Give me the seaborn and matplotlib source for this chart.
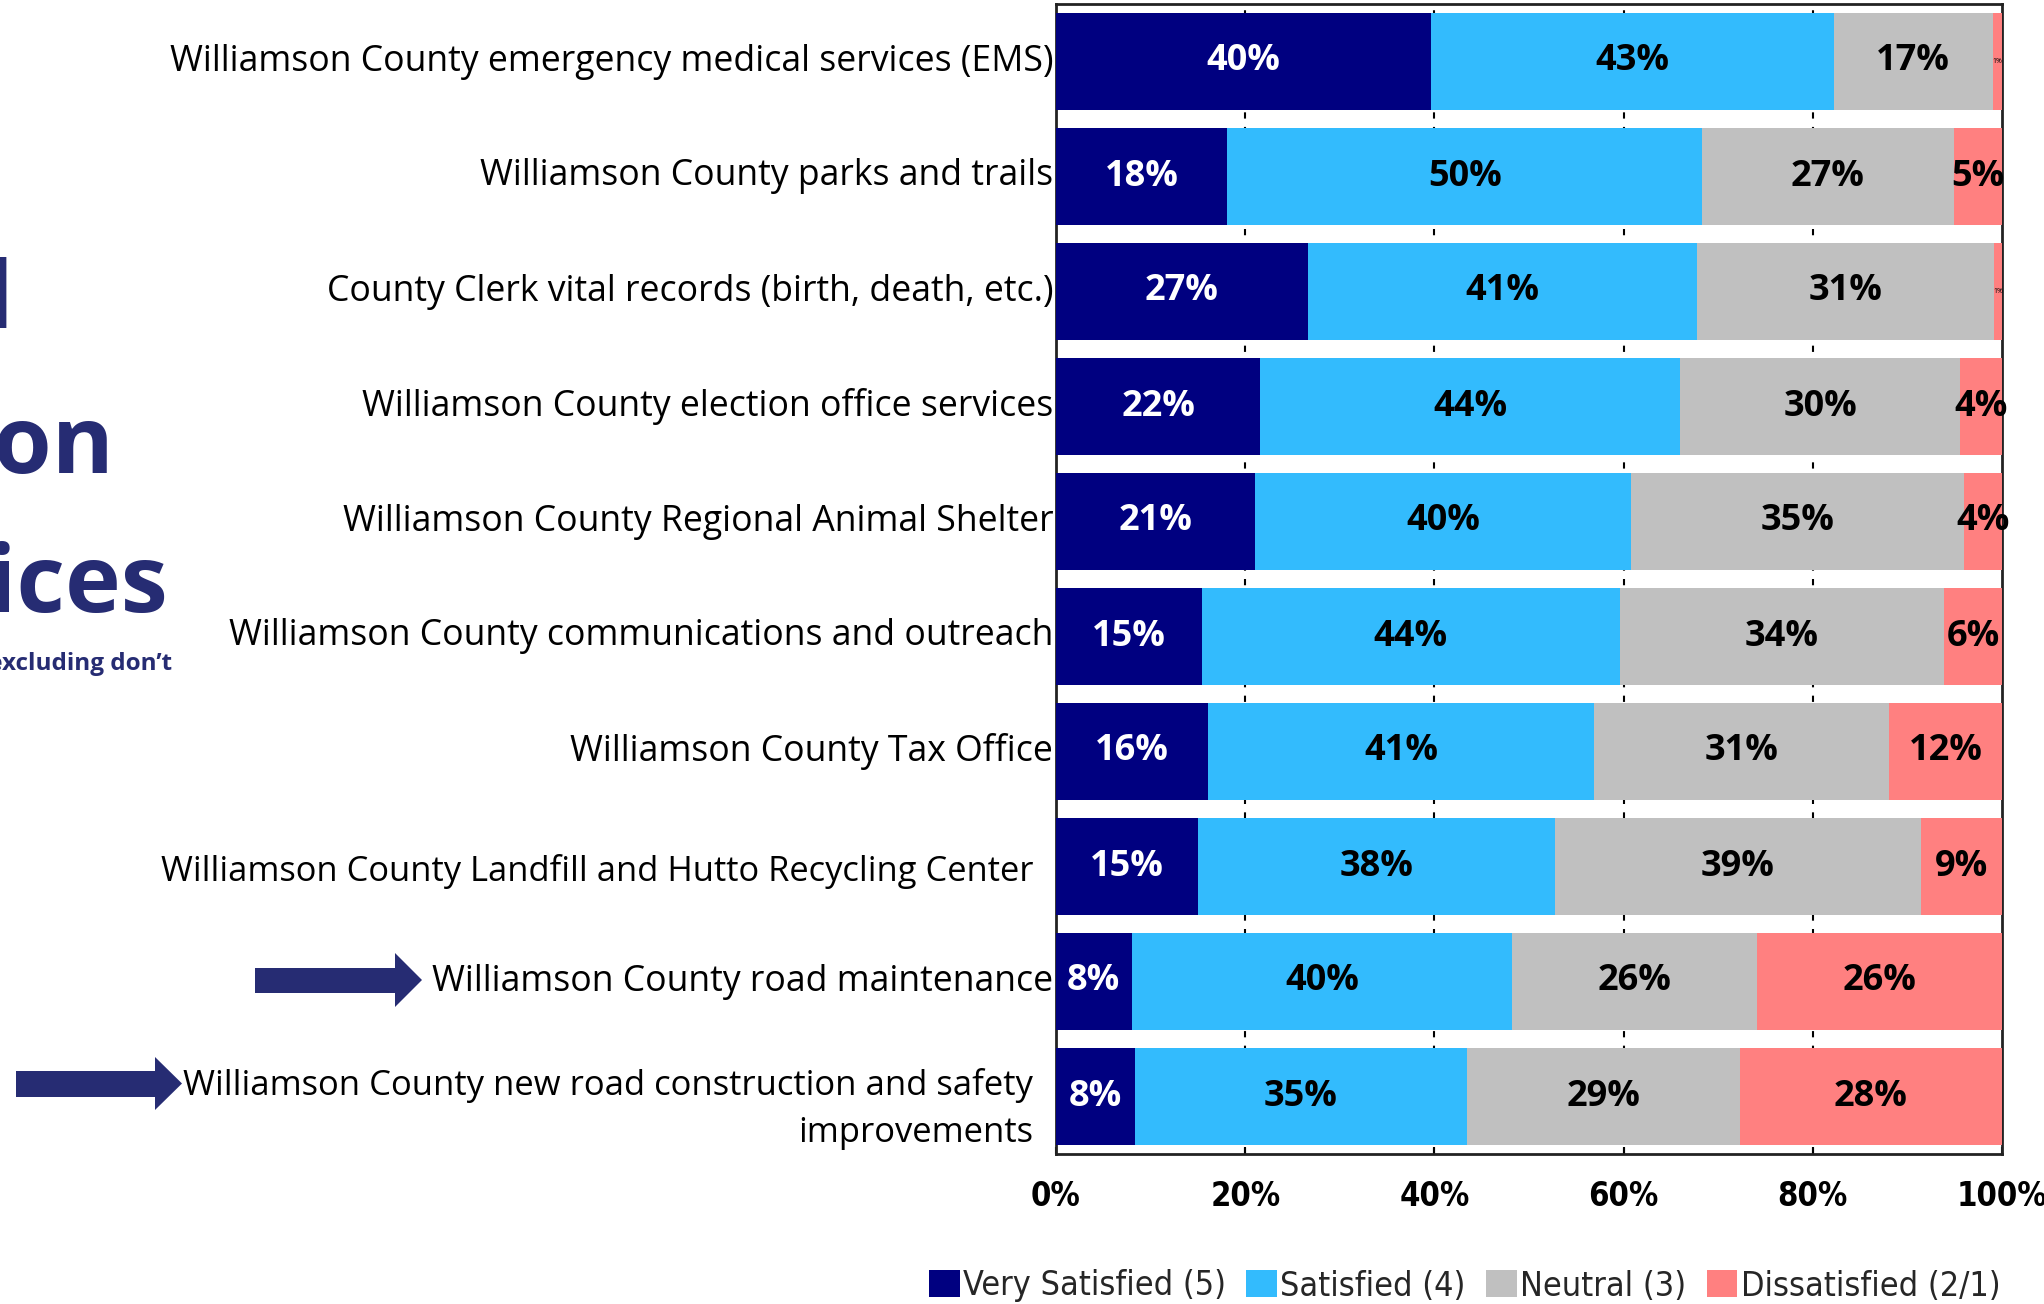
import numpy as np
import pandas as pd
import matplotlib
matplotlib.use("Agg")
import matplotlib.pyplot as plt
from matplotlib.patches import Patch, Polygon
from matplotlib.transforms import blended_transform_factory
import seaborn as sns

# ---------------- data ----------------
categories = [
    "Williamson County emergency medical services (EMS)",
    "Williamson County parks and trails",
    "County Clerk vital records (birth, death, etc.)",
    "Williamson County election office services",
    "Williamson County Regional Animal Shelter",
    "Williamson County communications and outreach",
    "Williamson County Tax Office",
    "Williamson County Landfill and Hutto Recycling Center",
    "Williamson County road maintenance",
    "Williamson County new road construction and safety\nimprovements",
]
very_satisfied = [39.6, 18.1, 26.6, 21.6, 21.0, 15.4, 16.1, 15.0, 8.0, 8.3]
satisfied      = [42.6, 50.2, 41.2, 44.4, 39.8, 44.2, 40.8, 37.7, 40.2, 35.1]
neutral        = [16.8, 26.6, 31.4, 29.6, 35.2, 34.3, 31.2, 38.7, 25.9, 28.9]
dissatisfied   = [1.0, 5.1, 0.8, 4.4, 4.0, 6.1, 11.9, 8.6, 25.9, 27.7]
series_names = ["Very Satisfied (5)", "Satisfied (4)", "Neutral (3)", "Dissatisfied (2/1)"]
x_ticks = [0, 20, 40, 60, 80, 100]
x_tick_labels = ["0%", "20%", "40%", "60%", "80%", "100%"]
title_lines = ["Overall", "Satisfaction", "Services", "(excluding don\u2019t"]

colors = ["#000080", "#33BBFD", "#C0C0C0", "#FF8080"]
navy = "#262C73"

# ---------------- style ----------------
sns.set_theme(style="white")
plt.rcParams["font.family"] = ["Open Sans", "DejaVu Sans"]
narrow = ["Liberation Sans Narrow", "DejaVu Sans Condensed", "DejaVu Sans"]

W, H = 2044, 1304
fig = plt.figure(figsize=(W / 100, H / 100), dpi=100)
ax_left, ax_right, ax_top, ax_bottom = 1056, 2002, 4, 1154
ax = fig.add_axes([ax_left / W, 1 - ax_bottom / H, (ax_right - ax_left) / W, (ax_bottom - ax_top) / H])

df = pd.DataFrame({"category": categories,
                   series_names[0]: very_satisfied,
                   series_names[1]: satisfied,
                   series_names[2]: neutral,
                   series_names[3]: dissatisfied})
vals = df[series_names].to_numpy()
cum = vals.cumsum(axis=1)

# layered cumulative bars (largest first)
for j in range(len(series_names) - 1, -1, -1):
    sns.barplot(x=cum[:, j], y=df["category"], orient="h", color=colors[j],
                saturation=1, width=0.85, linewidth=0, edgecolor="none",
                ax=ax, zorder=3)

ax.set_xlim(0, 100)
ax.set_ylim(len(categories) - 0.5, -0.5)
ax.set_xlabel("")
ax.set_ylabel("")
ax.set_xticks(x_ticks)
ax.set_xticklabels(x_tick_labels, fontsize=23.5, fontweight="bold",
                   family=narrow, fontstretch="condensed")
ax.tick_params(axis="x", direction="in", length=5, width=1.5, color="black", pad=19,
               bottom=True, labelcolor="black")
ax.set_yticks([])
ax.set_yticklabels([])

# dashed gridlines (visible in gaps between bars)
ax.grid(False)
for xv in x_ticks[1:-1]:
    ax.axvline(xv, color="black", lw=1.5, ls=(0, (3, 4)), zorder=1)

for side in ["top", "bottom", "left", "right"]:
    ax.spines[side].set_visible(True)
    ax.spines[side].set_color("#222222")
    ax.spines[side].set_linewidth(2)

# segment labels
for i in range(len(categories)):
    left = 0
    for j in range(len(series_names)):
        v = vals[i, j]
        txt = f"{v:.0f}%"
        col = "white" if j == 0 else "black"
        if v < 2:
            ax.text(left + v / 2, i, txt, ha="center", va="center", fontsize=5,
                    color="black", zorder=5)
        else:
            ax.text(left + v / 2, i, txt, ha="center", va="center", fontsize=26,
                    fontweight="bold", color=col, zorder=5)
        left += v

# category labels
trans = blended_transform_factory(ax.transAxes, ax.transData)
for i, cat in enumerate(categories):
    xo, yo, fs = -0.003, 0.0, 25.7
    if "Landfill" in cat:
        xo, yo, fs = -0.024, 0.04, 24.8
    if "new road" in cat:
        xo, yo, fs = -0.024, 0.11, 24.9
    ax.text(xo, i + yo, cat, transform=trans, ha="right", va="center",
            fontsize=fs, color="black", linespacing=1.5, multialignment="right")

# legend
handles = [Patch(facecolor=c, edgecolor="none") for c in colors]
fig.legend(handles, series_names, loc="center right",
           bbox_to_anchor=(2014 / W, 1 - 1286 / H), ncol=4, frameon=False,
           prop={"family": narrow, "size": 24.5, "stretch": "condensed"},
           handlelength=0.9, handleheight=0.85, handletextpad=0.1,
           columnspacing=0.6, borderaxespad=0)

# partial slide title on the left (cut off by the figure edge)
fig.text(14 / W, 1 - 328 / H, title_lines[0], ha="right", va="baseline",
         fontsize=68, fontweight="bold", color=navy)
fig.text(115 / W, 1 - 473 / H, title_lines[1], ha="right", va="baseline",
         fontsize=68, fontweight="bold", color=navy)
fig.text(168 / W, 1 - 612 / H, title_lines[2], ha="right", va="baseline",
         fontsize=68, fontweight="bold", color=navy)
fig.text(172 / W, 1 - 670 / H, title_lines[3], ha="right", va="baseline",
         fontsize=17.5, fontweight="bold", color=navy)

# arrows
def arrow(x0, x_head, x_tip, sy0, sy1, hy0, hy1):
    pts = [(x0, sy0), (x_head, sy0), (x_head, hy0), (x_tip, (hy0 + hy1) / 2),
           (x_head, hy1), (x_head, sy1), (x0, sy1)]
    pts = [(px / W, 1 - py / H) for px, py in pts]
    fig.patches.append(Polygon(pts, closed=True, facecolor=navy, edgecolor="none",
                               transform=fig.transFigure, figure=fig))

arrow(255, 395, 422, 968, 993, 953, 1007)
arrow(16, 155, 182, 1071, 1097, 1057, 1110)

fig.savefig("out.png", dpi=100, facecolor="white")
